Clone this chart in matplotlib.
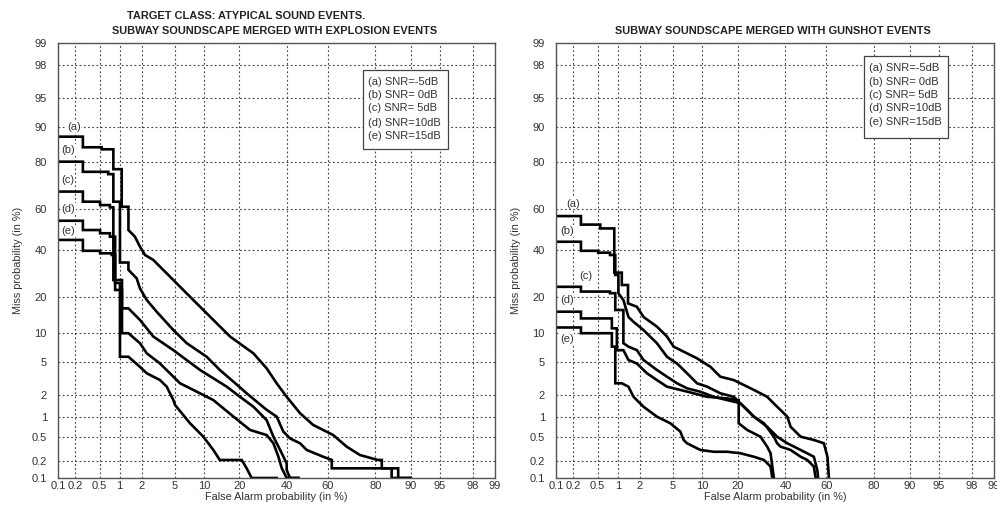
import math
from statistics import NormalDist

import matplotlib
matplotlib.use("Agg")
import matplotlib.pyplot as plt
import numpy as np
from matplotlib.patches import Rectangle

plt.rcParams["font.family"] = ["Liberation Sans", "DejaVu Sans"]

TICKS = [0.1, 0.2, 0.5, 1, 2, 5, 10, 20, 40, 60, 80, 90, 95, 98, 99]
TICK_LABELS = ["0.1", "0.2", "0.5", "1", "2", "5", "10", "20", "40",
               "60", "80", "90", "95", "98", "99"]
SNR_LABELS = ["(a) SNR=-5dB", "(b) SNR= 0dB", "(c) SNR= 5dB",
              "(d) SNR=10dB", "(e) SNR=15dB"]
TAGS = ["(a)", "(b)", "(c)", "(d)", "(e)"]

# --- subway + explosion events: false alarm (%) / miss (%) ---
exp_a_fa = [0.1, 0.27, 0.27, 0.54, 0.54, 0.81, 0.81, 1.07, 1.07, 1.33, 1.33, 1.63,
            1.90, 2.21, 2.81, 4.84, 7.88, 12.2, 16.9, 25.2, 30.7, 35.2, 39.9, 46.4,
            52.9, 62.6, 68.7, 74.3, 80.9, 82.2, 82.2, 87.0, 87.0, 90.0]
exp_a_miss = [87.7, 87.7, 84.8, 84.8, 84.2, 84.2, 77.5, 77.5, 61.3, 61.3, 49.9, 46.6,
              41.7, 37.7, 35.4, 26.6, 19.1, 13.1, 9.2, 6.2, 4.23, 2.80, 1.88, 1.12,
              0.755, 0.53, 0.347, 0.252, 0.208, 0.208, 0.149, 0.149, 0.1, 0.1]

exp_b_fa = [0.1, 0.27, 0.27, 0.68, 0.68, 0.81, 0.81, 1.01, 1.01, 1.33, 1.33, 1.72,
            1.90, 2.33, 3.09, 4.84, 6.75, 10.6, 13.9, 18.0, 22.6, 30.7, 35.2, 38.3,
            41.5, 46.4, 49.7, 57.8, 61.9, 61.9, 85.2, 85.2, 90.0]
exp_b_miss = [80.2, 80.2, 76.5, 76.5, 75.6, 75.6, 63.7, 63.7, 34.2, 34.2, 30.9, 27.3,
              23.3, 19.1, 15.4, 10.6, 7.9, 5.7, 4.05, 2.93, 2.09, 1.25, 1.0, 0.60,
              0.47, 0.393, 0.306, 0.236, 0.208, 0.149, 0.149, 0.1, 0.1]

exp_c_fa = [0.1, 0.27, 0.27, 0.51, 0.51, 0.72, 0.72, 0.81, 0.81, 1.08, 1.08, 1.33,
            1.90, 2.81, 4.84, 9.17, 15.9, 20.2, 25.2, 30.7, 33.7, 36.8, 39.9, 39.9,
            41.5, 45.6]
exp_c_miss = [68.3, 68.3, 63.7, 63.7, 62.1, 62.1, 61.0, 61.0, 26.6, 26.6, 16.4, 16.4,
              13.1, 9.2, 6.7, 4.05, 2.54, 1.88, 1.38, 0.89, 0.50, 0.306, 0.182, 0.139,
              0.1, 0.1]

exp_d_fa = [0.1, 0.27, 0.27, 0.51, 0.51, 0.72, 0.72, 0.86, 0.86, 1.08, 1.08, 1.33,
            1.90, 2.33, 3.39, 5.73, 7.88, 12.2, 18.0, 23.9, 30.7, 33.7, 36.0, 37.6,
            39.9, 45.6]
exp_d_miss = [54.5, 54.5, 49.9, 49.9, 48.3, 48.3, 46.6, 46.6, 22.7, 22.7, 9.9, 9.9,
              7.9, 6.2, 4.8, 2.80, 2.31, 1.70, 1.0, 0.635, 0.53, 0.393, 0.236, 0.149,
              0.1, 0.1]

exp_e_fa = [0.1, 0.27, 0.27, 0.51, 0.51, 0.77, 0.77, 0.86, 0.86, 1.01, 1.01, 1.33,
            1.90, 2.33, 3.39, 4.07, 4.84, 5.05, 7.30, 9.87, 12.2, 13.9, 20.8, 22.6,
            24.5, 35.2]
exp_e_miss = [45.0, 45.0, 39.7, 39.7, 38.5, 38.5, 37.7, 37.7, 25.4, 25.4, 5.7, 5.7,
              4.4, 3.7, 3.07, 2.54, 1.70, 1.46, 0.80, 0.50, 0.306, 0.208, 0.208, 0.149,
              0.1, 0.1]

# --- subway + gunshot events ---
gun_a_fa = [0.1, 0.27, 0.27, 0.55, 0.55, 0.89, 0.89, 1.14, 1.14, 1.39, 1.39, 1.83,
            2.23, 3.27, 4.29, 5.09, 7.08, 8.91, 11.9, 14.5, 18.6, 20.9, 26.0, 31.6,
            36.1, 40.9, 42.5, 47.4, 53.9, 58.8, 60.5, 61.2]
gun_a_miss = [56.8, 56.8, 52.6, 52.6, 50.7, 50.7, 29.7, 29.7, 24.6, 24.6, 18.0, 16.9,
              13.9, 11.4, 9.2, 7.29, 6.2, 5.48, 4.4, 3.37, 3.07, 2.80, 2.31, 1.88,
              1.38, 1.0, 0.71, 0.50, 0.444, 0.393, 0.236, 0.1]

gun_b_fa = [0.1, 0.27, 0.27, 0.51, 0.51, 0.77, 0.77, 0.92, 0.92, 1.02, 1.02, 1.20,
            1.41, 1.65, 2.23, 3.27, 4.29, 5.55, 7.08, 8.91, 11.1, 14.5, 18.6, 22.1,
            26.0, 31.6, 36.1, 40.9, 47.4, 53.9, 55.6, 56.0]
gun_b_miss = [44.1, 44.1, 39.7, 39.7, 38.8, 38.8, 37.7, 37.7, 28.7, 28.7, 21.5, 19.1,
              13.9, 12.6, 10.6, 7.9, 5.7, 4.8, 3.7, 2.80, 2.54, 2.09, 1.88, 1.38,
              1.0, 0.71, 0.50, 0.393, 0.306, 0.236, 0.139, 0.1]

gun_c_fa = [0.1, 0.27, 0.27, 0.77, 0.77, 0.92, 0.92, 1.20, 1.20, 1.41, 1.83, 2.23,
            3.27, 4.29, 5.55, 7.08, 9.60, 12.7, 16.5, 18.6, 20.9, 23.4, 26.0, 30.2,
            34.6, 36.1, 37.7, 42.5, 47.4, 50.7, 53.9, 54.8]
gun_c_miss = [23.9, 23.9, 22.1, 22.1, 21.5, 21.5, 15.9, 15.9, 7.9, 7.29, 6.7, 5.25,
              4.05, 3.37, 2.80, 2.42, 2.19, 1.88, 1.70, 1.62, 1.54, 1.25, 1.0, 0.80,
              0.50, 0.393, 0.347, 0.306, 0.236, 0.208, 0.16, 0.1]

gun_d_fa = [0.1, 0.27, 0.27, 0.82, 0.82, 0.97, 0.97, 1.20, 1.41, 1.83, 2.47, 3.27,
            4.29, 6.02, 8.26, 11.1, 16.5, 19.8, 20.3, 20.3, 23.4, 28.7, 31.6, 33.1,
            33.9, 34.6]
gun_d_miss = [15.4, 15.4, 13.5, 13.5, 11.0, 11.0, 6.7, 6.7, 5.25, 4.8, 3.7, 3.07,
              2.54, 2.31, 2.09, 1.88, 1.79, 1.70, 1.70, 0.80, 0.635, 0.50, 0.347, 0.27,
              0.16, 0.1]

gun_e_fa = [0.1, 0.27, 0.27, 0.82, 0.82, 0.92, 0.92, 1.14, 1.41, 1.65, 2.23, 3.27,
            4.68, 6.02, 6.53, 7.08, 9.60, 12.7, 16.5, 20.9, 26.0, 30.2, 33.1, 33.9]
gun_e_miss = [11.2, 11.2, 9.9, 9.9, 7.29, 7.29, 2.80, 2.80, 2.54, 1.88, 1.38, 1.0,
              0.80, 0.60, 0.444, 0.393, 0.306, 0.286, 0.286, 0.27, 0.236, 0.208, 0.16,
              0.1]

_norm = NormalDist()
_inv_cdf = np.vectorize(_norm.inv_cdf, otypes=[float])
_erf = np.vectorize(math.erf, otypes=[float])


def to_probit(p):
    p = np.clip(np.asarray(p, dtype=float) / 100.0, 1e-9, 1 - 1e-9)
    return _inv_cdf(p)


def from_probit(z):
    z = np.asarray(z, dtype=float)
    return 50.0 * (1.0 + _erf(z / math.sqrt(2.0)))


def det_axes(ax, curves, tag_pos, box, text_x, text_ys):
    ax.set_xscale("function", functions=(to_probit, from_probit))
    ax.set_yscale("function", functions=(to_probit, from_probit))
    for fa, miss in curves:
        ax.plot(fa, miss, color="black", lw=1.9, solid_joinstyle="miter")
    ax.set_xlim(0.1, 99)
    ax.set_ylim(0.1, 99)
    ax.set_xticks(TICKS)
    ax.set_xticklabels(TICK_LABELS)
    ax.set_yticks(TICKS)
    ax.set_yticklabels(TICK_LABELS)
    ax.minorticks_off()
    ax.grid(True, color="#444444", lw=0.8, linestyle=(0, (1.6, 2.2)))
    ax.tick_params(axis="both", length=0, labelsize=8, colors="#333333")
    ax.tick_params(axis="x", pad=2)
    ax.tick_params(axis="y", pad=8)
    for s in ax.spines.values():
        s.set_color("#555555")
        s.set_linewidth(1.0)
    ax.set_xlabel("False Alarm probability (in %)", fontsize=7.8,
                  color="#333333", labelpad=1)
    ax.set_ylabel("Miss probability (in %)", fontsize=7.8,
                  color="#333333", labelpad=6)

    # curve tags near the left edge
    for tag, (tx, ty) in zip(TAGS, tag_pos):
        ax.text(tx, ty, tag, transform=ax.transAxes, fontsize=8,
                color="#333333", ha="left", va="center", zorder=4,
                bbox=dict(fc="white", ec="none", pad=0.6))

    # SNR key box
    ax.add_patch(Rectangle(box[:2], box[2], box[3], transform=ax.transAxes,
                           fc="white", ec="#444444", lw=0.9, zorder=5))
    for lab, ty in zip(SNR_LABELS, text_ys):
        ax.text(text_x, ty, lab, transform=ax.transAxes, fontsize=8,
                color="#333333", ha="left", va="center", zorder=6)


fig = plt.figure(figsize=(9.97, 5.09), dpi=100)
ax1 = fig.add_axes([0.0582, 0.0609, 0.4383, 0.8546])
ax2 = fig.add_axes([0.5577, 0.0609, 0.4393, 0.8546])

det_axes(
    ax1,
    [(exp_a_fa, exp_a_miss), (exp_b_fa, exp_b_miss), (exp_c_fa, exp_c_miss),
     (exp_d_fa, exp_d_miss), (exp_e_fa, exp_e_miss)],
    [(0.020, 0.808), (0.008, 0.754), (0.008, 0.684), (0.008, 0.618), (0.008, 0.568)],
    (0.698, 0.756, 0.1945, 0.182), 0.710,
    [0.911, 0.880, 0.850, 0.817, 0.786],
)
det_axes(
    ax2,
    [(gun_a_fa, gun_a_miss), (gun_b_fa, gun_b_miss), (gun_c_fa, gun_c_miss),
     (gun_d_fa, gun_d_miss), (gun_e_fa, gun_e_miss)],
    [(0.024, 0.631), (0.009, 0.568), (0.052, 0.464), (0.009, 0.409), (0.009, 0.320)],
    (0.703, 0.782, 0.192, 0.1885), 0.715,
    [0.942, 0.911, 0.880, 0.850, 0.818],
)

title_kw = dict(ha="center", va="center", fontsize=7.95, fontweight="bold",
                color="#222222")
fig.text(246 / 997, 1 - 15.7 / 509, "TARGET CLASS: ATYPICAL SOUND EVENTS.", **title_kw)
fig.text(275 / 997, 1 - 30.7 / 509, "SUBWAY SOUNDSCAPE MERGED WITH EXPLOSION EVENTS",
         **title_kw)
fig.text(773 / 997, 1 - 30.7 / 509, "SUBWAY SOUNDSCAPE MERGED WITH GUNSHOT EVENTS",
         **title_kw)

fig.savefig("out.png", dpi=100, facecolor="white")
